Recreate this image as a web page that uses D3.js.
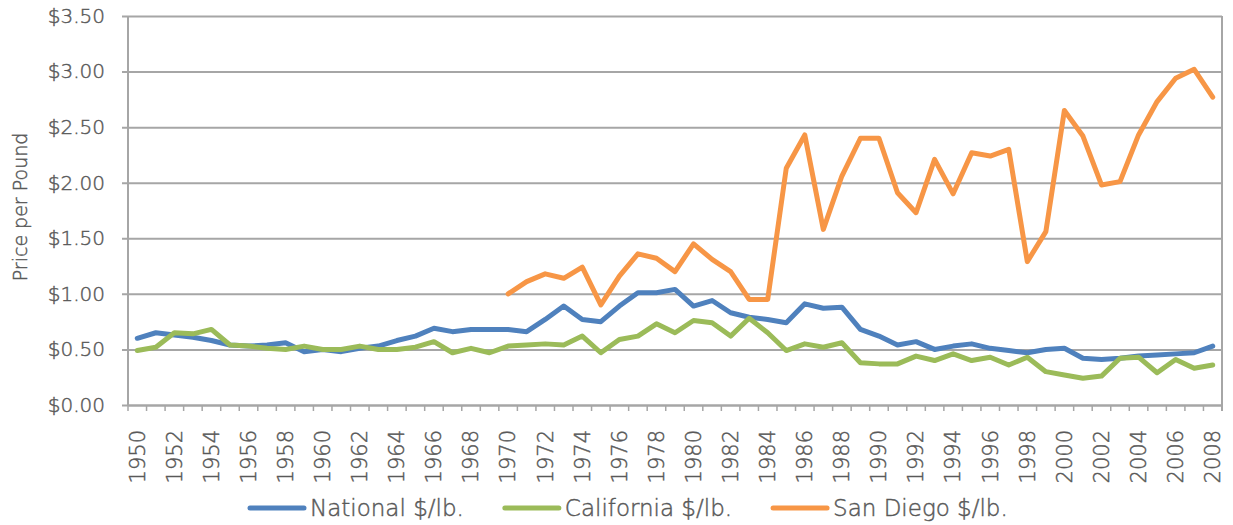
<!DOCTYPE html>
<html>
<head>
<meta charset="utf-8">
<script src="https://cdn.jsdelivr.net/npm/d3@7"></script>
<style>
  body { margin: 0; background: #fff; }
  svg { display: block; font-family: "Century Gothic", "DejaVu Sans", sans-serif; font-weight: 200; }
  text { fill: #595959; stroke: #595959; stroke-width: 0.45px; }
</style>
</head>
<body>
<svg width="1233" height="525"></svg>
<script>
// years on the category axis
var years = d3.range(1950, 2009);

// price per pound
var national = [0.60, 0.65, 0.63, 0.61, 0.58, 0.54, 0.53, 0.54, 0.56, 0.48,
  0.50, 0.48, 0.51, 0.53, 0.58, 0.62, 0.69, 0.66, 0.68, 0.68,
  0.68, 0.66, 0.77, 0.89, 0.77, 0.75, 0.89, 1.01, 1.01, 1.04,
  0.89, 0.94, 0.83, 0.79, 0.77, 0.74, 0.91, 0.87, 0.88, 0.68,
  0.62, 0.54, 0.57, 0.50, 0.53, 0.55, 0.51, 0.49, 0.47, 0.50,
  0.51, 0.42, 0.41, 0.42, 0.44, 0.45, 0.46, 0.47, 0.53];
var california = [0.49, 0.52, 0.65, 0.64, 0.68, 0.54, 0.53, 0.51, 0.50, 0.53,
  0.50, 0.50, 0.53, 0.50, 0.50, 0.52, 0.57, 0.47, 0.51, 0.47,
  0.53, 0.54, 0.55, 0.54, 0.62, 0.47, 0.59, 0.62, 0.73, 0.65,
  0.76, 0.74, 0.62, 0.78, 0.65, 0.49, 0.55, 0.52, 0.56, 0.38,
  0.37, 0.37, 0.44, 0.40, 0.46, 0.40, 0.43, 0.36, 0.43, 0.30,
  0.27, 0.24, 0.26, 0.42, 0.43, 0.29, 0.41, 0.33, 0.36];
// San Diego starts in 1970
var sanDiegoYears = d3.range(1970, 2009);
var sanDiego = [1.00, 1.11, 1.18, 1.14, 1.24, 0.90, 1.16, 1.36, 1.32, 1.20,
  1.45, 1.31, 1.20, 0.95, 0.95, 2.13, 2.43, 1.58, 2.06, 2.40,
  2.40, 1.91, 1.73, 2.21, 1.90, 2.27, 2.24, 2.30, 1.29, 1.56,
  2.65, 2.42, 1.98, 2.01, 2.43, 2.73, 2.94, 3.02, 2.77];

var yTicks = [0, 0.5, 1, 1.5, 2, 2.5, 3, 3.5];

var series = [
  {name: "National $/lb.", years: years, values: national, color: "#4F81BD"},
  {name: "California $/lb.", years: years, values: california, color: "#9BBB59"},
  {name: "San Diego $/lb.", years: sanDiegoYears, values: sanDiego, color: "#F79646"}
];

var svg = d3.select("svg"),
    margin = {top: 16, right: 11, bottom: 120, left: 128},
    width = +svg.attr("width") - margin.left - margin.right,
    height = +svg.attr("height") - margin.top - margin.bottom;

var x = d3.scaleBand().domain(years).range([0, width]).padding(0),
    y = d3.scaleLinear().domain([0, 3.5]).range([height, 0]);

var g = svg.append("g")
    .attr("transform", "translate(" + margin.left + "," + margin.top + ")");

// horizontal gridlines with small ticks to the left
g.append("g")
    .call(d3.axisLeft(y).tickValues(yTicks).tickSize(-width)
      .tickFormat(function(d) { return "$" + d3.format(".2f")(d); }))
    .attr("font-family", null)
    .attr("font-size", 20)
    .call(function(a) {
      a.select(".domain").remove();
      a.selectAll(".tick line").attr("x1", -6).attr("x2", width).attr("stroke", "#A6A6A6").attr("stroke-width", 2);
      a.selectAll(".tick text").attr("x", -23);
    });

// y axis line and right border
g.append("line").attr("x1", 0).attr("x2", 0).attr("y1", 0).attr("y2", height)
    .attr("stroke", "#A6A6A6").attr("stroke-width", 2);
g.append("line").attr("x1", width).attr("x2", width).attr("y1", 0).attr("y2", height + 6)
    .attr("stroke", "#A6A6A6").attr("stroke-width", 2);

// x axis: labels in the middle of each category, ticks between categories
g.append("g")
    .attr("transform", "translate(0," + height + ")")
    .call(d3.axisBottom(x).tickValues(years.filter(function(d) { return d % 2 === 0; })).tickSize(0))
    .attr("font-family", null)
    .attr("font-size", 21)
    .call(function(a) {
      a.select(".domain").attr("stroke", "#A6A6A6").attr("stroke-width", 2);
      a.selectAll(".tick text")
        .attr("transform", "rotate(-90)")
        .attr("text-anchor", "end")
        .attr("x", -25)
        .attr("y", 0)
        .attr("dy", "0.35em");
    });

g.append("g").selectAll("line")
    .data(years.concat([null]))
    .enter().append("line")
      .attr("x1", function(d) { return d === null ? width : x(d); })
      .attr("x2", function(d) { return d === null ? width : x(d); })
      .attr("y1", height)
      .attr("y2", height + 6)
      .attr("stroke", "#A6A6A6")
      .attr("stroke-width", 1.5);

// lines
var line = d3.line()
    .x(function(d) { return x(d[0]) + x.bandwidth() / 2; })
    .y(function(d) { return y(d[1]); });

g.selectAll(".series")
  .data(series)
  .enter().append("path")
    .attr("class", "series")
    .attr("fill", "none")
    .attr("stroke", function(d) { return d.color; })
    .attr("stroke-width", 5)
    .attr("stroke-linejoin", "round")
    .attr("stroke-linecap", "round")
    .attr("d", function(d) { return line(d3.zip(d.years, d.values)); });

// y axis title
svg.append("text")
    .attr("transform", "translate(20,207) rotate(-90)")
    .attr("text-anchor", "middle")
    .attr("dy", "0.35em")
    .attr("font-size", 19)
    .text("Price per Pound");

// legend
var legend = svg.append("g").attr("transform", "translate(250,508)");
var lx = 0;
series.forEach(function(s) {
  legend.append("line")
      .attr("x1", lx).attr("x2", lx + 54).attr("y1", 0).attr("y2", 0)
      .attr("stroke", s.color).attr("stroke-width", 5).attr("stroke-linecap", "round");
  var t = legend.append("text")
      .attr("x", lx + 60).attr("y", 0).attr("dy", "0.35em")
      .attr("font-size", 23)
      .text(s.name);
  lx += 60 + t.node().getComputedTextLength() + 41;
});
</script>
</body>
</html>
